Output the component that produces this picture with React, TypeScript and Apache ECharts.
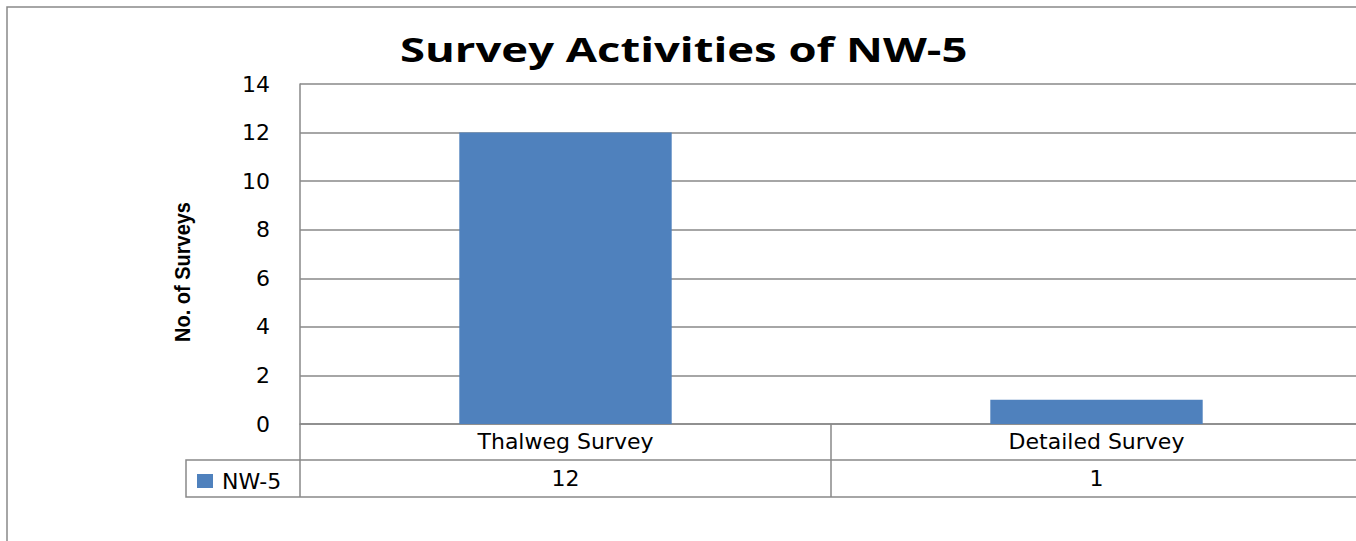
import React, { useEffect, useRef } from "react";
import * as echarts from "echarts";

const categories = ["Thalweg Survey", "Detailed Survey"];
const seriesName = "NW-5";
const values = [12, 1];
const yTicks = { min: 0, max: 14, interval: 2 };
const titleText = "Survey Activities of NW-5";
const yAxisTitle = "No. of Surveys";

const GRAY = "#898989";
const BLUE = "#4F81BD";
const LABEL_FONT = "DejaVu Sans";

export default function App() {
  const ref = useRef<HTMLDivElement>(null);
  useEffect(() => {
    if (!ref.current) return;
    const chart = echarts.init(ref.current, null, { renderer: "svg" });
    chart.setOption({
      animation: false,
      backgroundColor: "#ffffff",
      legend: {
        left: 197,
        top: 470,
        padding: 0,
        icon: "rect",
        itemWidth: 16,
        itemHeight: 14,
        textStyle: { fontFamily: LABEL_FONT, fontSize: 22, color: "#000", padding: [0, 0, 0, 4] },
        data: [seriesName],
      },
      grid: { left: 300, top: 84, right: 0, bottom: 117, containLabel: false },
      xAxis: [
        {
          type: "category",
          data: categories,
          position: "bottom",
          axisLine: { show: true, lineStyle: { color: GRAY, width: 1.5 } },
          axisTick: { show: true, alignWithLabel: false, length: 73, lineStyle: { color: GRAY, width: 1.5 } },
          axisLabel: {
            fontFamily: LABEL_FONT,
            fontSize: 22,
            color: "#000",
            margin: 17,
            verticalAlign: "middle",
          },
          splitLine: { show: false },
        },
        {
          type: "category",
          data: categories,
          position: "bottom",
          offset: 36,
          axisLine: { show: true, lineStyle: { color: GRAY, width: 1.5 } },
          axisTick: { show: false },
          axisLabel: {
            fontFamily: LABEL_FONT,
            fontSize: 22,
            color: "#000",
            margin: 18,
            verticalAlign: "middle",
            formatter: (_v: string, idx: number) => String(values[idx]),
          },
          splitLine: { show: false },
        },
      ],
      yAxis: {
        type: "value",
        min: yTicks.min,
        max: yTicks.max,
        interval: yTicks.interval,
        axisLine: { show: true, lineStyle: { color: GRAY, width: 1.5 } },
        axisTick: { show: false },
        axisLabel: { fontFamily: LABEL_FONT, fontSize: 22, color: "#000", margin: 30 },
        splitLine: { show: true, lineStyle: { color: GRAY, width: 1.5 } },
      },
      series: [
        {
          name: seriesName,
          type: "bar",
          xAxisIndex: 0,
          data: values,
          barWidth: "40%",
          itemStyle: { color: BLUE },
        },
      ],
      graphic: [
        {
          type: "rect",
          shape: { x: 7, y: 7, width: 1420, height: 620 },
          style: { fill: "none", stroke: GRAY, lineWidth: 1.5 },
          silent: true,
        },
        {
          type: "polyline",
          shape: { points: [[300, 460], [186, 460], [186, 497], [1370, 497]] },
          style: { fill: "none", stroke: GRAY, lineWidth: 1.5 },
          silent: true,
        },
        {
          type: "text",
          x: 400,
          y: 49,
          scaleX: 1.336,
          style: {
            text: titleText,
            font: "bold 34px 'Open Sans'",
            fill: "#000",
            textAlign: "left",
            textVerticalAlign: "middle",
            verticalAlign: "middle",
          },
          silent: true,
        },
        {
          type: "text",
          x: 182,
          y: 272,
          rotation: Math.PI / 2,
          scaleY: 1.12,
          style: {
            text: yAxisTitle,
            font: "bold 20px 'Liberation Sans'",
            fill: "#000",
            textAlign: "center",
            textVerticalAlign: "middle",
            verticalAlign: "middle",
          },
          silent: true,
        },
      ],
    });
    return () => chart.dispose();
  }, []);
  return (
    <div
      style={{
        position: "absolute",
        left: 0,
        top: 0,
        width: 1356,
        height: 541,
        overflow: "hidden",
      }}
    >
      <div ref={ref} style={{ width: 1362, height: 541 }} />
    </div>
  );
}
